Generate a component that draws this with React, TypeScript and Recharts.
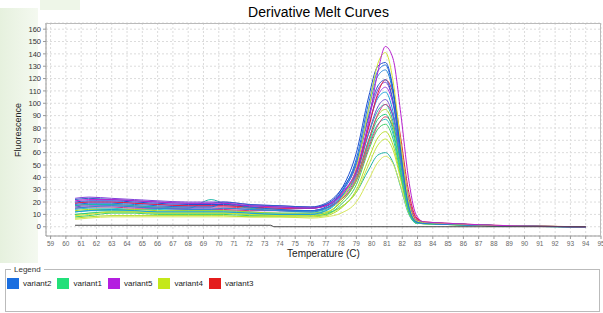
import React from 'react';
import { LineChart, Line, XAxis, YAxis, CartesianGrid } from 'recharts';

// temperature grid shared by all wells
const temps = [60.6, 61.5, 63, 64.5, 66, 68, 69.5, 70.3, 72, 74, 76, 77, 78, 79, 79.8, 80.4, 80.9, 81.4, 81.9, 82.4, 82.9, 83.4, 85, 88, 91, 94];

// variant2 (blues)
const b1 = [20, 21, 21, 20, 19, 18, 18, 18, 17, 16, 15, 18, 30, 60, 105, 130, 133, 112, 65, 22, 5, 3.5, 2.5, 1, 0.3, 0];
const b2 = [18, 19, 19, 18, 17, 16, 16, 19, 16, 14, 13, 16, 28, 55, 100, 126, 131, 110, 62, 20, 4.5, 3, 2.2, 1, 0.3, 0];
const b3 = [15, 16, 17, 16, 15, 14, 14, 15, 14, 13, 12, 15, 27, 52, 95, 122, 127, 108, 62, 20, 4, 3, 2, 0.8, 0.2, 0];
const b4 = [22, 23, 22, 21, 20, 19, 19, 20, 18, 17, 16, 19, 30, 52, 90, 114, 119, 102, 60, 20, 4.5, 3.5, 2.5, 1, 0.3, 0];
const b5 = [12, 13, 14, 13, 12, 12, 12, 12, 11, 10, 10, 13, 24, 45, 82, 104, 109, 93, 55, 18, 4, 3, 2, 0.8, 0.2, 0];
// variant1 (greens / teals)
const g1 = [17, 18, 18, 17, 16, 15, 22, 19, 15, 13, 12, 14, 24, 42, 75, 94, 99, 85, 50, 16, 3.5, 3, 2, 0.8, 0.2, 0];
const g2 = [10, 11, 12, 12, 11, 11, 11, 11, 10, 10, 9, 11, 20, 38, 68, 87, 91, 78, 46, 15, 3.5, 2.8, 2, 0.8, 0.2, 0];
const g3 = [14, 15, 15, 14, 14, 13, 13, 13, 12, 11, 11, 13, 22, 38, 66, 83, 87, 75, 44, 14, 3, 2.5, 1.8, 0.7, 0.2, 0];
const g4 = [8, 9, 11, 11, 10, 10, 10, 10, 9, 9, 9, 10, 18, 34, 62, 79, 83, 71, 42, 13, 3, 2.5, 1.8, 0.7, 0.2, 0];
const g5 = [12, 13, 13, 13, 12, 12, 12, 12, 11, 10, 10, 11, 16, 28, 46, 58, 60, 52, 32, 11, 3, 2.5, 1.8, 0.7, 0.2, 0];
// variant5 (purples)
const p1 = [21, 22, 22, 21, 20, 19, 19, 19, 17, 16, 15, 17, 26, 46, 85, 125, 146, 136, 92, 40, 10, 4, 2.8, 1.2, 0.3, 0];
const p2 = [23, 24, 23, 22, 21, 20, 20, 20, 18, 17, 16, 18, 28, 50, 88, 111, 117, 101, 60, 21, 5, 3.5, 2.5, 1, 0.3, 0];
const p3 = [19, 20, 20, 19, 18, 17, 17, 17, 16, 15, 15, 17, 27, 46, 82, 106, 113, 99, 62, 22, 5, 3.5, 2.5, 1, 0.3, 0];
const p4 = [16, 17, 17, 16, 15, 15, 15, 15, 14, 13, 13, 15, 25, 43, 76, 97, 103, 89, 54, 18, 4, 3, 2.2, 0.9, 0.2, 0];
// variant4 (yellow-greens)
const y1 = [9, 10, 12, 12, 11, 11, 11, 11, 10, 9, 9, 11, 22, 48, 95, 132, 141, 118, 68, 22, 5, 3.5, 2.5, 1, 0.4, 0];
const y2 = [7, 8, 9, 9, 9, 9, 9, 9, 8, 8, 8, 9, 15, 30, 55, 72, 77, 66, 40, 13, 3, 2.5, 1.8, 0.8, 0.3, 0];
const y3 = [10, 11, 12, 12, 11, 11, 11, 11, 10, 9, 9, 10, 16, 28, 50, 66, 71, 62, 38, 13, 3, 2.5, 1.8, 0.8, 0.3, 0];
const y4 = [6, 7, 8, 8, 8, 8, 8, 8, 8, 8, 7, 8, 11, 20, 38, 52, 57, 51, 33, 12, 3, 2.5, 1.8, 0.8, 0.3, 0];
const y5 = [13, 14, 14, 14, 13, 13, 13, 13, 12, 11, 11, 12, 20, 38, 70, 90, 95, 82, 49, 16, 3.5, 3, 2, 0.8, 0.3, 0];
// variant3 (reds)
const r1 = [19, 20, 20, 19, 18, 17, 17, 17, 16, 15, 15, 17, 26, 45, 80, 108, 119, 108, 72, 30, 8, 4, 2.8, 1.2, 0.4, 0];
const r2 = [15, 16, 16, 15, 15, 14, 14, 14, 13, 13, 13, 15, 23, 40, 70, 91, 99, 90, 60, 25, 7, 3.5, 2.5, 1, 0.3, 0];
const r3 = [17, 18, 18, 17, 16, 16, 16, 16, 15, 14, 13, 15, 22, 37, 64, 82, 89, 81, 54, 22, 6, 3.5, 2.5, 1, 0.3, 0];

// no-template control well
const ntcTemps = [60.6, 73.4, 73.6, 94];
const ntcValues = [1.2, 1.2, 0, 0];

const xTicks = [59, 60, 61, 62, 63, 64, 65, 66, 67, 68, 69, 70, 71, 72, 73, 74, 75, 76, 77, 78, 79, 80, 81, 82, 83, 84, 85, 86, 87, 88, 89, 90, 91, 92, 93, 94, 95];
const yTicks = [0, 10, 20, 30, 40, 50, 60, 70, 80, 90, 100, 110, 120, 130, 140, 150, 160];

const legendNames = ['variant2', 'variant1', 'variant5', 'variant4', 'variant3'];
const legendColors = ['#1a6ee0', '#22e07a', '#b41ee0', '#c4e81a', '#e41c1c'];

const wells: { key: string; values: number[]; color: string }[] = [
  { key: 'g5', values: g5, color: '#1fb3a6' },
  { key: 'y4', values: y4, color: '#d6e65a' },
  { key: 'y3', values: y3, color: '#c4e63a' },
  { key: 'y2', values: y2, color: '#b6dd22' },
  { key: 'g4', values: g4, color: '#3ed068' },
  { key: 'g3', values: g3, color: '#2cc0c4' },
  { key: 'r3', values: r3, color: '#e03e62' },
  { key: 'g2', values: g2, color: '#22cc82' },
  { key: 'y5', values: y5, color: '#a6d62a' },
  { key: 'g1', values: g1, color: '#20b8aa' },
  { key: 'r2', values: r2, color: '#d23282' },
  { key: 'p4', values: p4, color: '#7050d2' },
  { key: 'b5', values: b5, color: '#1aa0da' },
  { key: 'p3', values: p3, color: '#a040e0' },
  { key: 'p2', values: p2, color: '#8040d8' },
  { key: 'r1', values: r1, color: '#e02040' },
  { key: 'b4', values: b4, color: '#3060ca' },
  { key: 'b3', values: b3, color: '#2a8ad8' },
  { key: 'b2', values: b2, color: '#1a70e0' },
  { key: 'b1', values: b1, color: '#2050d0' },
  { key: 'y1', values: y1, color: '#d4e232' },
  { key: 'p1', values: p1, color: '#b822d0' },
];

const data = temps.map((t, i) => {
  const row: Record<string, number> = { t };
  wells.forEach((w) => {
    row[w.key] = w.values[i];
  });
  return row;
});

const ntcData = ntcTemps.map((t, i) => ({ t, ntc: ntcValues[i] }));

const font = 'Arial, "Liberation Sans", sans-serif';

export default function App() {
  return (
    <div style={{ position: 'absolute', left: 0, top: 0, width: 603, height: 313, background: '#fff', fontFamily: font, overflow: 'hidden' }}>
      <div style={{ position: 'absolute', left: 0, top: 8, width: 38, height: 255, background: 'linear-gradient(to right, #e6f1de, #f4f9f0)' }} />
      <div style={{ position: 'absolute', left: 40, top: 0, width: 40, height: 10, background: '#eef6e8' }} />
      <div style={{ position: 'absolute', left: 17, top: 4, width: 603, textAlign: 'center', fontSize: 14, color: '#000' }}>
        Derivative Melt Curves
      </div>
      <div style={{ position: 'absolute', left: 18, top: 130, transform: 'translate(-50%, -50%) rotate(-90deg)', fontSize: 9, color: '#222', whiteSpace: 'nowrap' }}>
        Fluorescence
      </div>
      <div style={{ position: 'absolute', left: 46, top: 248, width: 555, textAlign: 'center', fontSize: 10, color: '#222' }}>
        Temperature (C)
      </div>
      <div style={{ position: 'absolute', left: 0, top: 0 }}>
        <LineChart width={603} height={262} data={data} margin={{ top: 23, right: 2, left: 0, bottom: 0 }}>
          <CartesianGrid stroke="#dcdcdc" strokeDasharray="2 2" />
          <XAxis
            dataKey="t"
            type="number"
            domain={[58.7, 95]}
            ticks={xTicks}
            allowDataOverflow
            interval={0}
            height={26}
            tick={{ fill: '#666', fontSize: 6.5, fontFamily: font }}
            tickLine={{ stroke: '#999' }}
            tickSize={3}
            axisLine={{ stroke: '#999' }}
          />
          <YAxis
            type="number"
            domain={[-7.5, 165]}
            ticks={yTicks}
            allowDataOverflow
            interval={0}
            width={46}
            tick={{ fill: '#333', fontSize: 7.5, fontFamily: font }}
            tickLine={{ stroke: '#999' }}
            tickSize={3}
            axisLine={{ stroke: '#999' }}
          />
          {wells.map((w) => (
            <Line
              key={w.key}
              dataKey={w.key}
              type="monotone"
              stroke={w.color}
              strokeWidth={1}
              dot={false}
              isAnimationActive={false}
            />
          ))}
          <Line data={ntcData} dataKey="ntc" type="linear" stroke="#444" strokeWidth={1} dot={false} isAnimationActive={false} />
        </LineChart>
      </div>
      <div style={{ position: 'absolute', left: 46, top: 23, width: 555, height: 213, border: '1px solid #bbb', boxSizing: 'border-box', pointerEvents: 'none', borderBottom: 'none', borderLeft: 'none' }} />
      <fieldset style={{ position: 'absolute', left: 5, top: 265, width: 595, height: 47, margin: 0, padding: '0 0 0 1px', border: '1px solid #bbb', boxSizing: 'border-box' }}>
        <legend style={{ fontSize: 8, color: '#333', padding: '0 3px', marginLeft: 4 }}>Legend</legend>
        <div style={{ display: 'flex', alignItems: 'center', marginTop: 4 }}>
          {legendNames.map((n, i) => (
            <div key={n} style={{ display: 'flex', alignItems: 'center', marginRight: 6 }}>
              <div style={{ width: 12, height: 11, background: legendColors[i], marginRight: 4 }} />
              <span style={{ fontSize: 8, color: '#222' }}>{n}</span>
            </div>
          ))}
        </div>
      </fieldset>
    </div>
  );
}
